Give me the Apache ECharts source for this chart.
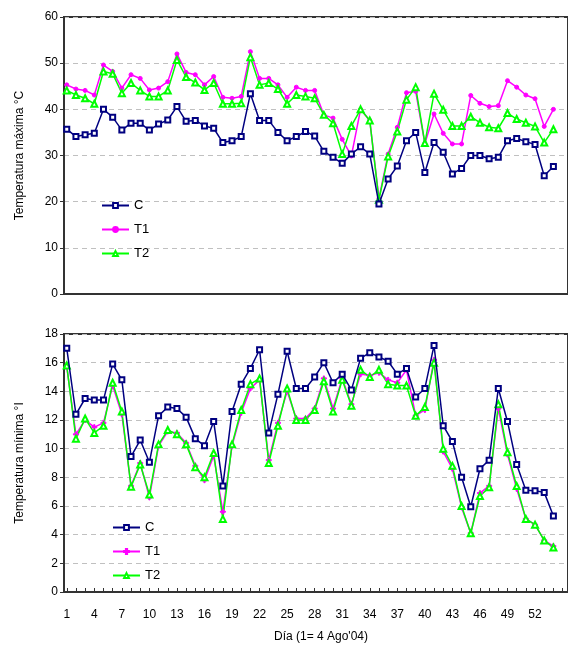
<!DOCTYPE html>
<html><head><meta charset="utf-8">
<script src="https://cdn.jsdelivr.net/npm/echarts@6/dist/echarts.min.js"></script>
<style>html,body{margin:0;padding:0;background:#fff}#c{width:568px;height:659px}</style>
</head><body><div id="c"></div>
<script>
const days = Array.from({length: 54}, (_, i) => i + 1);
const xTickLabels = [1,4,7,10,13,16,19,22,25,28,31,34,37,40,43,46,49,52];
const maxC  = [35.7,34.1,34.5,34.8,40.0,38.3,35.5,37.0,37.0,35.5, 36.8,37.7,40.6,37.4,37.6,36.4,35.9,32.8,33.2,34.1, 43.4,37.6,37.6,35.0,33.2,34.1,35.2,34.2,30.9,29.6, 28.3,30.3,31.9,30.3,19.5,24.9,27.7,33.2,35.0,26.3, 32.8,30.7,26.0,27.2,30.0,30.0,29.3,29.6,33.2,33.7, 33.0,32.4,25.6,27.6];
const maxT1 = [45.3,44.4,44.1,43.1,49.6,48.2,44.6,47.5,46.7,44.2, 44.6,46.0,52.0,48.0,47.5,45.3,47.1,42.6,42.4,42.8, 52.5,46.7,46.7,45.3,42.6,44.8,44.1,44.1,38.8,38.1, 33.5,29.9,40.0,37.6,20.7,30.3,36.1,43.6,43.9,32.6, 39.0,34.8,32.5,32.5,43.0,41.3,40.6,40.8,46.2,44.8, 43.1,42.3,36.3,40.0];
const maxT2 = [44.1,43.1,42.4,41.2,48.2,47.7,43.5,45.7,44.1,42.8, 42.8,44.1,50.7,47.0,45.8,44.2,45.7,41.2,41.2,41.3, 51.3,45.3,45.7,44.4,41.2,43.1,42.8,42.4,38.8,37.0, 30.3,36.4,40.0,37.6,20.4,29.8,35.2,42.1,44.8,32.7, 43.4,39.9,36.4,36.4,38.4,37.1,36.1,35.9,39.2,37.9, 37.1,36.3,32.8,35.7];
const minC  = [17.0,12.4,13.5,13.4,13.4,15.9,14.8,9.45,10.6,9.05, 12.3,12.9,12.8,12.2,10.7,10.2,11.9,7.4,12.6,14.5, 15.6,16.9,11.1,13.8,16.8,14.2,14.2,15.0,16.0,14.6, 15.2,14.1,16.3,16.7,16.4,16.1,15.2,15.6,13.6,14.2, 17.2,11.6,10.5,8.0,5.95,8.6,9.2,14.2,11.9,8.9, 7.1,7.07,6.95,5.3];
const minT1 = [15.7,11.0,12.0,11.5,11.8,14.4,12.4,7.4,9.0,6.6, 10.2,11.2,11.1,10.4,8.8,7.8,9.5,5.6,10.2,12.5, 14.2,14.8,9.2,11.8,14.0,12.1,12.1,12.8,14.9,12.8, 14.9,13.1,15.2,15.1,15.3,14.8,14.6,15.5,12.3,12.7, 16.2,9.8,8.6,5.9,4.1,6.9,7.4,12.8,9.6,7.2, 5.1,4.7,3.6,3.2];
const minT2 = [15.8,10.7,12.1,11.1,11.6,14.6,12.6,7.35,8.9,6.8, 10.3,11.3,11.0,10.3,8.7,8.0,9.7,5.1,10.3,12.7, 14.5,14.9,9.0,11.6,14.2,12.0,12.0,12.7,14.7,12.6, 14.8,13.0,15.5,15.0,15.5,14.5,14.4,14.4,12.3,12.9, 16.0,10.0,8.8,6.0,4.1,6.7,7.3,13.1,9.75,7.4, 5.1,4.7,3.6,3.1];
const seriesNamesTop = ['C', 'T1', 'T2'];
const seriesNamesBottom = ['C ', 'T1 ', 'T2 '];

const FONT = 'Liberation Sans, Arial, sans-serif';
const navy = '#000080', mag = '#ff00ff', lime = '#00ff00';
const pts = arr => arr.map((v, i) => [days[i], v]);
const xTicksAll = Array.from({length: 55}, (_, i) => i + 1);
const plus = 'path://M3,0H5V3H8V5H5V8H3V5H0V3H3Z';

function xAxis(idx, showLabels) {
  return {
    type: 'value', gridIndex: idx, min: 0.7, max: 55.59,
    axisLine: {show: true, lineStyle: {color: '#333', width: 2}},
    axisTick: {show: showLabels, inside: true, length: 4, lineStyle: {color: '#333'}, customValues: xTicksAll},
    axisLabel: {show: showLabels, customValues: xTickLabels, color: '#000', fontFamily: FONT, fontSize: 12, margin: 17},
    splitLine: {show: false},
    name: showLabels ? "Día (1= 4 Ago'04)" : '', nameLocation: 'middle', nameGap: 39,
    nameTextStyle: {color: '#000', fontFamily: FONT, fontSize: 12, padding: [0, 0, 0, 10]}
  };
}
function yAxis(idx, max, interval, name) {
  return {
    type: 'value', gridIndex: idx, min: 0, max: max, interval: interval,
    axisLine: {show: true, lineStyle: {color: '#333', width: 2}},
    axisTick: {show: true, length: 4, lineStyle: {color: '#333'}},
    axisLabel: {color: '#000', fontFamily: FONT, fontSize: 12, margin: 6},
    splitLine: {show: true, lineStyle: {color: '#c0c0c0', type: [5, 4], width: 1}},
    name: name, nameLocation: 'middle', nameGap: 38,
    nameTextStyle: {color: '#000', fontFamily: FONT, fontSize: 12}
  };
}
function ser(name, data, idx, color, symbol, size) {
  return {
    name: name, type: 'line', xAxisIndex: idx, yAxisIndex: idx, data: pts(data),
    symbol: symbol, symbolSize: size, showSymbol: true,
    lineStyle: {color: color, width: 1.5},
    itemStyle: {color: color, borderColor: color, borderWidth: 1},
    animation: false, z: name.trim() === 'C' ? 3 : 2
  };
}
const legendText = {fontFamily: FONT, fontSize: 13, color: '#000'};

const chart = echarts.init(document.getElementById('c'), null, {renderer: 'canvas'});
chart.setOption({
  backgroundColor: '#fff',
  animation: false,
  grid: [
    {left: 64, top: 17, right: -12, height: 277, show: true, borderColor: '#333', borderWidth: 2},
    {left: 64, top: 334, right: -12, height: 258, show: true, borderColor: '#333', borderWidth: 2}
  ],
  legend: [
    {orient: 'vertical', left: 96, top: 194, itemWidth: 27, itemHeight: 6, itemGap: 11,
     data: seriesNamesTop, textStyle: legendText, selectedMode: false},
    {orient: 'vertical', left: 107, top: 516, itemWidth: 27, itemHeight: 6, itemGap: 11,
     data: seriesNamesBottom, textStyle: legendText, selectedMode: false}
  ],
  xAxis: [xAxis(0, false), xAxis(1, true)],
  yAxis: [yAxis(0, 60, 10, 'Temperatura máxima °C'), yAxis(1, 18, 2, 'Temperatura mínima °I')],
  series: [
    ser(seriesNamesTop[1], maxT1, 0, mag, 'circle', 4),
    ser(seriesNamesTop[2], maxT2, 0, lime, 'emptyTriangle', 6),
    ser(seriesNamesTop[0], maxC, 0, navy, 'emptyRect', 5),
    ser(seriesNamesBottom[1], minT1, 1, mag, plus, 5),
    ser(seriesNamesBottom[2], minT2, 1, lime, 'emptyTriangle', 6),
    ser(seriesNamesBottom[0], minC, 1, navy, 'emptyRect', 5)
  ]
});
</script></body></html>
